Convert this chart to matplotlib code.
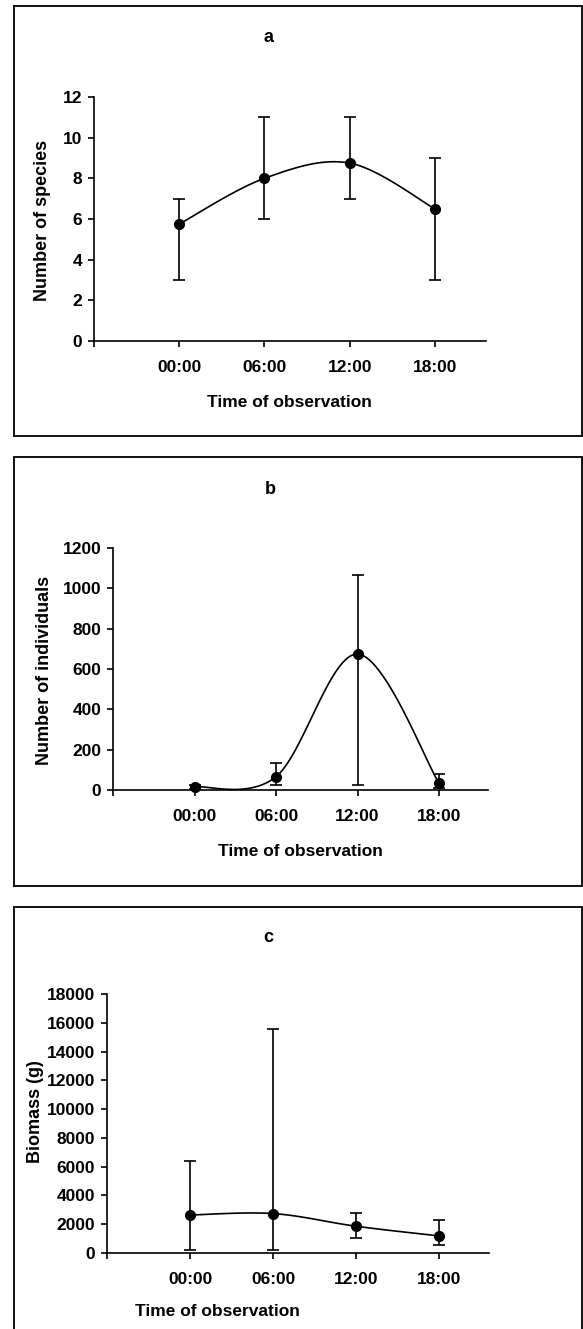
import numpy as np
import matplotlib
matplotlib.use('Agg')
import matplotlib.pyplot as plt
from matplotlib.patches import Rectangle

plt.rcParams['font.family'] = ['Liberation Sans', 'DejaVu Sans']
plt.rcParams['font.weight'] = 'bold'

W, H = 583, 1329

times = ['00:00', '06:00', '12:00', '18:00']

species_mean = [5.75, 8.0, 8.75, 6.5]
species_low = [3, 6, 7, 3]
species_high = [7, 11, 11, 9]

indiv_mean = [16, 66, 674, 33]
indiv_low = [5, 26, 26, 11]
indiv_high = [25, 136, 1067, 78]

biomass_mean = [2640, 2740, 1860, 1185]
biomass_low = [190, 200, 1045, 580]
biomass_high = [6400, 15550, 2810, 2300]


def smooth(x, y, n=40):
    # bezier smoothing like the spreadsheet "smoothed line"
    x = np.asarray(x, float)
    y = np.asarray(y, float)
    px = np.concatenate([[x[0]], x, [x[-1]]])
    py = np.concatenate([[y[0]], y, [y[-1]]])
    xs, ys = [], []
    t = np.linspace(0, 1, n)
    for i in range(len(x) - 1):
        p0 = np.array([px[i + 1], py[i + 1]])
        p3 = np.array([px[i + 2], py[i + 2]])
        c1 = p0 + (np.array([px[i + 2], py[i + 2]]) - np.array([px[i], py[i]])) / 6
        c2 = p3 - (np.array([px[i + 3], py[i + 3]]) - np.array([px[i + 1], py[i + 1]])) / 6
        b = ((1 - t) ** 3)[:, None] * p0 + (3 * (1 - t) ** 2 * t)[:, None] * c1 \
            + (3 * (1 - t) * t ** 2)[:, None] * c2 + (t ** 3)[:, None] * p3
        xs.extend(b[:, 0])
        ys.extend(b[:, 1])
    return xs, ys


def box(l, t, r, b):
    return [l / W, 1 - b / H, (r - l) / W, (b - t) / H]


fig = plt.figure(figsize=(W / 100, H / 100), dpi=100)

panels = [
    dict(ax=box(94, 97, 486, 341), mean=species_mean, low=species_low, high=species_high,
         ymax=12, step=2, ylabel='Number of species', letter='a',
         title=(269, 37), xl=(289, 403), yl=(43, 220), frame=(14, 6, 582, 436)),
    dict(ax=box(113, 548, 488, 790), mean=indiv_mean, low=indiv_low, high=indiv_high,
         ymax=1200, step=200, ylabel='Number of individuals', letter='b',
         title=(270, 489), xl=(300, 852), yl=(45, 670), frame=(14, 457, 582, 886)),
    dict(ax=box(107, 994, 489, 1253), mean=biomass_mean, low=biomass_low, high=biomass_high,
         ymax=18000, step=2000, ylabel='Biomass (g)', letter='c',
         title=(268, 937), xl=(217, 1312), yl=(35, 1112), frame=(14, 907, 582, 1340)),
]

for p in panels:
    ax = fig.add_axes(p['ax'])
    x = np.arange(1, len(times) + 1)
    mean = np.array(p['mean'])
    err = [mean - np.array(p['low']), np.array(p['high']) - mean]
    sx, sy = smooth(x, mean)
    ax.plot(sx, sy, color='black', lw=1.2, clip_on=False)
    ax.errorbar(x, mean, yerr=err, fmt='o', color='black', ms=7, elinewidth=1.2,
                capsize=4.5, capthick=1.2, clip_on=False, zorder=3)
    ax.set_xlim(0, 4.6)
    ax.set_ylim(0, p['ymax'])
    ax.set_xticks(range(0, 5))
    ax.set_xticklabels([''] + times)
    ax.set_yticks(np.arange(0, p['ymax'] + 1, p['step']))
    for s in ['top', 'right']:
        ax.spines[s].set_visible(False)
    for s in ['left', 'bottom']:
        ax.spines[s].set_linewidth(1.2)
    ax.tick_params(direction='out', length=4.5, width=1.2, labelsize=12.5)
    ax.tick_params(axis='x', pad=9)
    ax.tick_params(axis='y', pad=4)
    for lab in ax.get_xticklabels() + ax.get_yticklabels():
        lab.set_fontweight('bold')
    ax.patch.set_alpha(0)

    fig.text(p['title'][0] / W, 1 - p['title'][1] / H, p['letter'], ha='center', va='center',
             fontsize=13, fontweight='bold')
    fig.text(p['xl'][0] / W, 1 - p['xl'][1] / H, 'Time of observation', ha='center', va='center',
             fontsize=12.5, fontweight='bold')
    fig.text(p['yl'][0] / W, 1 - p['yl'][1] / H, p['ylabel'], ha='center', va='center',
             rotation=90, fontsize=13, fontweight='bold')

    l, t, r, b = p['frame']
    fig.patches.append(Rectangle((l / W, 1 - b / H), (r - l) / W, (b - t) / H,
                                 transform=fig.transFigure, fill=False, edgecolor='#111111',
                                 lw=1.4, clip_on=True))

fig.savefig('out.png', dpi=100)
